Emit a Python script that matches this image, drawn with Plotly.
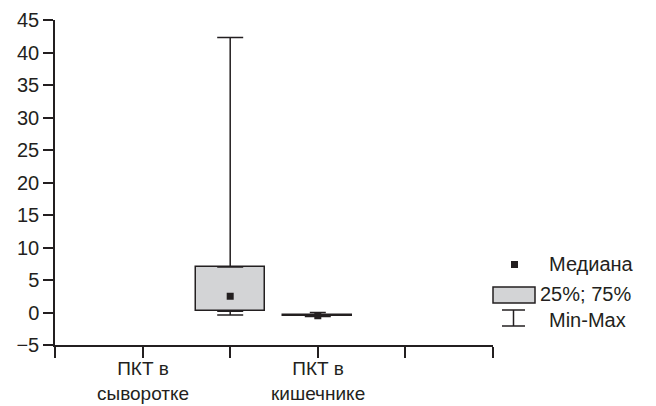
import plotly.graph_objects as go

# ---- data ----
tick_positions = [0, 1, 2, 3, 4, 5]
label_positions = [1, 3]
label_line1 = ["ПКТ в", "ПКТ в"]
label_line2 = ["сыворотке", "кишечнике"]
box_x = [2, 3]
q1 = [0.2, -0.6]
q3 = [7.0, -0.35]
median = [2.5, -0.5]
vmin = [-0.4, -0.45]
vmax = [42.3, 0.0]
legend_names = ["Медиана", "25%; 75%", "Min-Max"]

# page body has an 8px margin, so the figure is 8px smaller than the window
W, H = 648, 398
L, R, T, B = 47, 163, 12, 61
pw, ph = W - L - R, H - T - B

def px(x):  # reference page pixel -> paper
    return (x - 8 - L) / pw

def py(y):
    return (H - B - (y - 8)) / ph

ink = "#231f20"
fill = "#d3d4d6"
font = dict(family="Liberation Sans, Arial, sans-serif", size=20, color=ink)
label_font = dict(family="Liberation Sans, Arial, sans-serif", size=19, color=ink)

fig = go.Figure()

# whiskers (q3 -> max, min -> q1)
for i, x in enumerate(box_x):
    fig.add_trace(go.Scatter(
        x=[x], y=[q3[i]], mode="markers", marker=dict(size=0.1, color="rgba(0,0,0,0)"),
        error_y=dict(type="data", symmetric=False, array=[vmax[i] - q3[i]], arrayminus=[0],
                     color=ink, thickness=1.5, width=13 if i == 0 else 8),
        showlegend=False, hoverinfo="skip"))
    fig.add_trace(go.Scatter(
        x=[x], y=[q1[i]], mode="markers", marker=dict(size=0.1, color="rgba(0,0,0,0)"),
        error_y=dict(type="data", symmetric=False, array=[0], arrayminus=[q1[i] - vmin[i]],
                     color=ink, thickness=1.5, width=13),
        showlegend=False, hoverinfo="skip"))

# boxes
fig.add_trace(go.Bar(
    x=box_x, y=[b - a for a, b in zip(q1, q3)], base=q1, width=0.785,
    marker=dict(color=fill, line=dict(color=ink, width=1.5)),
    showlegend=False, hoverinfo="skip"))

# medians
fig.add_trace(go.Scatter(
    x=box_x, y=median, mode="markers",
    marker=dict(symbol="square", size=7, color=ink),
    showlegend=False, hoverinfo="skip"))

fig.update_layout(
    width=W, height=H,
    margin=dict(l=L, r=R, t=T, b=B),
    paper_bgcolor="white", plot_bgcolor="white",
    font=font,
    showlegend=False,
    bargap=0,
    xaxis=dict(range=[0, 5], tickvals=tick_positions, showticklabels=False,
               showline=True, linecolor=ink, linewidth=1.5, automargin=False,
               ticks="outside", ticklen=11, tickwidth=1.5, tickcolor=ink,
               showgrid=False, zeroline=False),
    yaxis=dict(range=[-5, 45], dtick=5, tick0=-5, automargin=False,
               showline=True, linecolor=ink, linewidth=1.5,
               ticks="outside", ticklen=10, tickwidth=1.5, tickcolor=ink,
               showgrid=False, zeroline=False, tickfont=font),
)

# category labels
for xp, a, b in zip(label_positions, label_line1, label_line2):
    fig.add_annotation(text=a + "<br>" + b, xref="x", yref="paper", x=xp, y=py(381.5),
                       xanchor="center", yanchor="middle", showarrow=False, font=label_font)

# legend (drawn manually)
shapes = [
    dict(type="rect", xref="paper", yref="paper", x0=px(511), x1=px(518), y0=py(268), y1=py(261),
         fillcolor=ink, line=dict(width=0)),
    dict(type="rect", xref="paper", yref="paper", x0=px(493), x1=px(535), y0=py(303), y1=py(287),
         fillcolor=fill, line=dict(color=ink, width=1.5)),
    dict(type="line", xref="paper", yref="paper", x0=px(502), x1=px(525), y0=py(310), y1=py(310),
         line=dict(color=ink, width=1.5)),
    dict(type="line", xref="paper", yref="paper", x0=px(513.5), x1=px(513.5), y0=py(310), y1=py(326),
         line=dict(color=ink, width=1.5)),
    dict(type="line", xref="paper", yref="paper", x0=px(502), x1=px(525), y0=py(326), y1=py(326),
         line=dict(color=ink, width=1.5)),
]
fig.update_layout(shapes=shapes)
for name, x, y in zip(legend_names, [547, 538, 547], [264, 294, 320]):
    fig.add_annotation(text=name, xref="paper", yref="paper", x=px(x), y=py(y),
                       xanchor="left", yanchor="middle", showarrow=False, font=font)

fig.write_html("out.html")
